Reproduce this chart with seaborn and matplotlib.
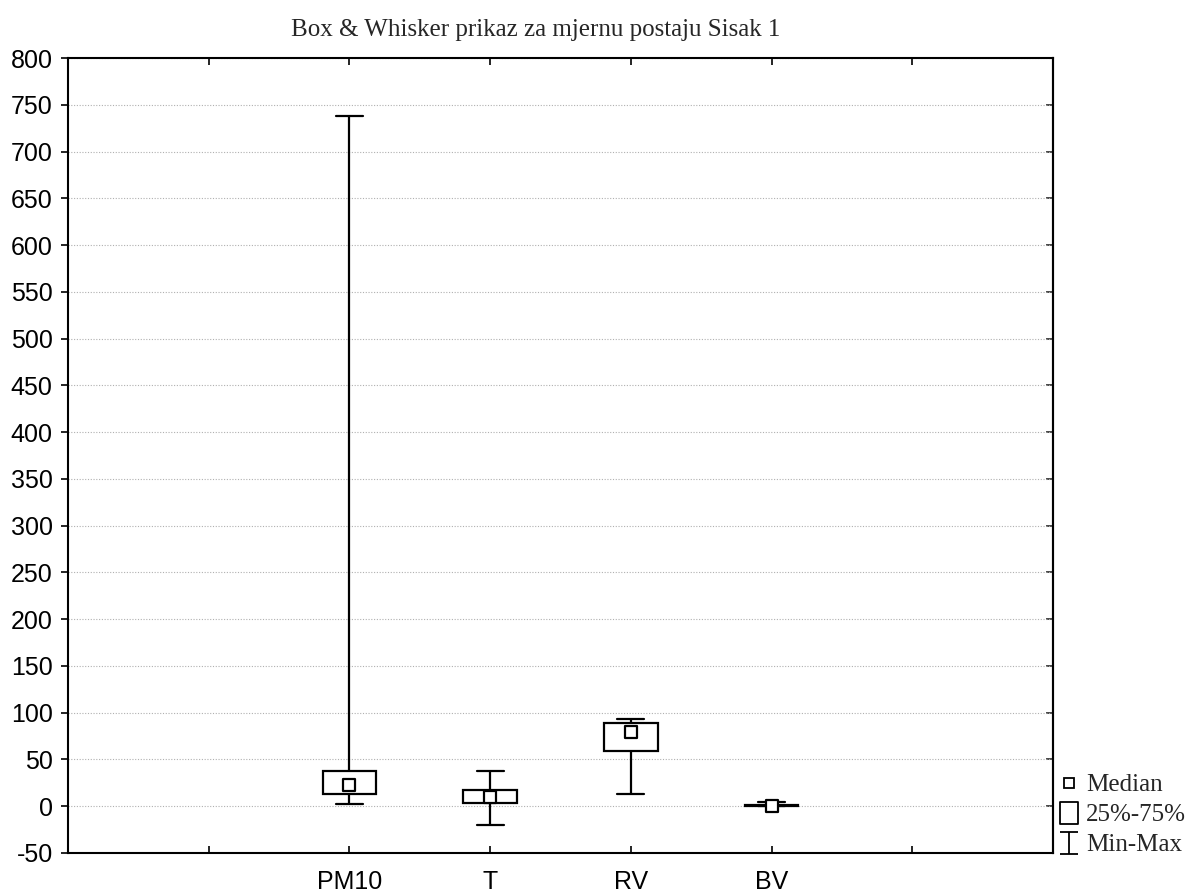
import numpy as np
import pandas as pd
import matplotlib
matplotlib.use("Agg")
import matplotlib.pyplot as plt
from matplotlib.path import Path
from matplotlib.lines import Line2D
import seaborn as sns

# values (min, q1, median, q3, max)
categories = ["PM10", "T", "RV", "BV"]
mins = [2.4, -19.7, 12.8, 0.0]
q1s = [13.1, 3.1, 59.4, 0.0]
medians = [22.7, 9.9, 79.0, 0.0]
q3s = [37.7, 17.0, 89.3, 1.0]
maxs = [738.0, 37.7, 93.3, 4.8]

title = "Box & Whisker prikaz za mjernu postaju Sisak 1"
yticks = list(range(-50, 801, 50))

sns.set_theme(style="ticks")
plt.rcParams["font.family"] = ["Liberation Sans", "DejaVu Sans"]
plt.rcParams["axes.unicode_minus"] = False
serif = ["Liberation Serif", "DejaVu Serif"]

# five points per group -> linear percentiles give exactly min/q1/med/q3/max
rows = []
for c, a, b, m, d, e in zip(categories, mins, q1s, medians, q3s, maxs):
    for v in (a, b, m, d, e):
        rows.append({"var": c, "value": v})
df = pd.DataFrame(rows)
med_df = pd.DataFrame({"var": categories, "value": medians})

fig = plt.figure(figsize=(11.93, 8.94), dpi=100)
ax = fig.add_axes([68 / 1193, 1 - 853 / 894, (1053 - 68) / 1193, (853 - 58) / 894])

sns.boxplot(data=df, x="var", y="value", order=categories, whis=(0, 100),
            width=0.38, color="white", linecolor="black", linewidth=1.6,
            showfliers=False, saturation=1, medianprops={"visible": False}, ax=ax)
sns.stripplot(data=med_df, x="var", y="value", order=categories, jitter=False,
              marker="s", size=8.5, color="white", edgecolor="black",
              linewidth=1.6, ax=ax, zorder=5)

ax.set_xlim(-2, 5)
ax.set_xticks(range(-1, 5))
ax.set_xticklabels([""] + categories + [""])
ax.set_ylim(-50, 800)
ax.set_yticks(yticks)
ax.set_xlabel("")
ax.set_ylabel("")

ax.yaxis.grid(True, color="#b0b0b0", linestyle=(0, (1, 1.5)), linewidth=0.8)
ax.xaxis.grid(False)
for s in ax.spines.values():
    s.set_visible(True)
    s.set_color("black")
    s.set_linewidth(1.5)

ax.tick_params(axis="x", direction="in", top=True, length=5, width=1.2,
               labelsize=18, pad=12, colors="black")
ax.tick_params(axis="y", direction="out", left=True, right=False, length=5,
               width=1.2, labelsize=18, pad=6, colors="black")
sec = ax.secondary_yaxis("right")
sec.set_yticks(yticks)
sec.tick_params(direction="in", length=5, width=1.2, labelright=False)
sec.spines["right"].set_linewidth(1.5)

fig.text(536 / 1193, 1 - 30 / 894, title, family=serif, fontsize=18,
         ha="center", va="center")

# legend with custom symbols
box_path = Path([(-0.42, -0.5), (0.42, -0.5), (0.42, 0.5), (-0.42, 0.5), (-0.42, -0.5)],
                [Path.MOVETO, Path.LINETO, Path.LINETO, Path.LINETO, Path.CLOSEPOLY])
ibeam_path = Path([(-0.42, 0.5), (0.42, 0.5), (0, 0.5), (0, -0.5), (-0.42, -0.5), (0.42, -0.5)],
                  [Path.MOVETO, Path.LINETO, Path.MOVETO, Path.LINETO, Path.MOVETO, Path.LINETO])
handles = [
    Line2D([], [], ls="none", marker="s", markersize=7.5, markerfacecolor="white",
           markeredgecolor="black", markeredgewidth=1.3),
    Line2D([], [], ls="none", marker=box_path, markersize=16, markerfacecolor="white",
           markeredgecolor="black", markeredgewidth=1.3),
    Line2D([], [], ls="none", marker=ibeam_path, markersize=16, markerfacecolor="none",
           markeredgecolor="black", markeredgewidth=1.3),
]
fig.legend(handles, ["Median", "25%-75%", "Min-Max"], loc="center left",
           bbox_to_anchor=(1056 / 1193, 1 - 815 / 894), frameon=False,
           prop={"family": serif, "size": 18}, handlelength=1.0,
           handletextpad=0.2, labelspacing=0.3, borderpad=0, borderaxespad=0)

fig.savefig("out.png", dpi=100)
